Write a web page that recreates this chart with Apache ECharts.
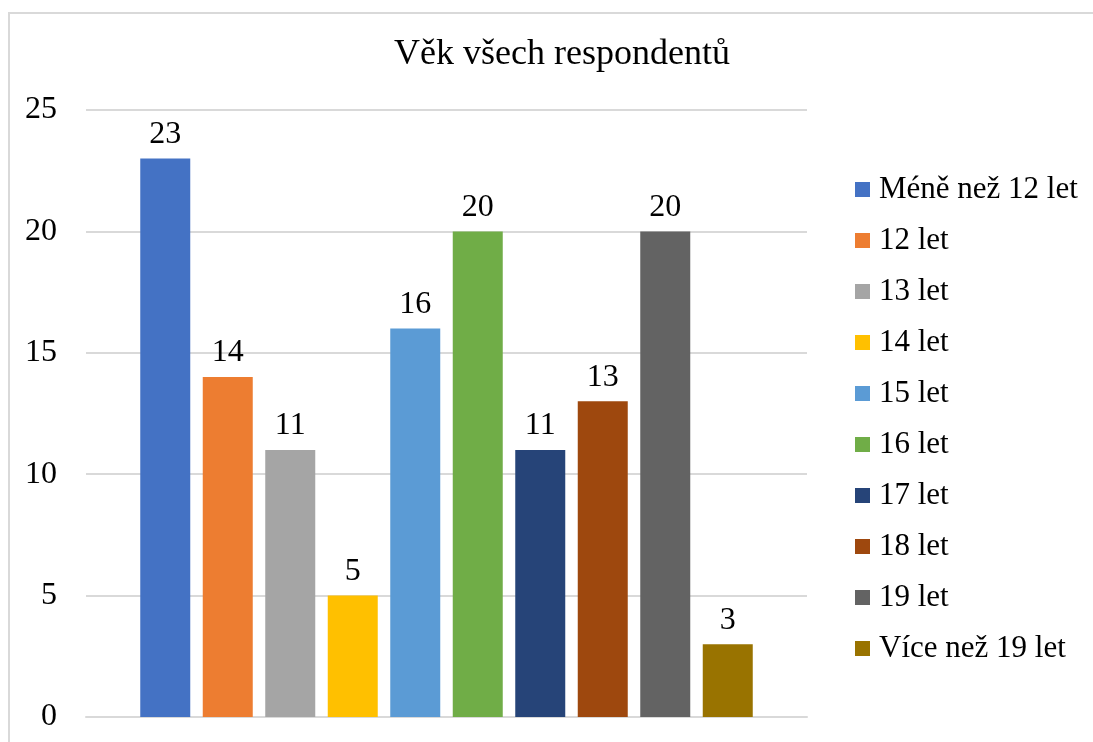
<!DOCTYPE html>
<html>
<head>
<meta charset="utf-8">
<script src="https://cdn.jsdelivr.net/npm/echarts@6/dist/echarts.min.js"></script>
<style>
  html, body { margin: 0; padding: 0; background: #fff; }
  #main { width: 1093px; height: 742px; }
</style>
</head>
<body>
<div id="main"></div>
<script>
// data
const groups = ['Méně než 12 let', '12 let', '13 let', '14 let', '15 let', '16 let', '17 let', '18 let', '19 let', 'Více než 19 let'];
const counts = [23, 14, 11, 5, 16, 20, 11, 13, 20, 3];
const colors = ['#4472C4', '#ED7D31', '#A5A5A5', '#FFC000', '#5B9BD5', '#70AD47', '#264478', '#9E480E', '#636363', '#997300'];
const yTicks = { min: 0, max: 25, interval: 5 };

const font = '"Liberation Serif", "Times New Roman", serif';

const chart = echarts.init(document.getElementById('main'));

// každá skupina je samostatná série, aby měla položku v legendě
const series = groups.map((name, i) => ({
    name: name,
    type: 'bar',
    data: [counts[i]],
    barWidth: 50,
    barGap: '25%',
    itemStyle: { color: colors[i] },
    label: {
        show: true,
        position: 'top',
        distance: 8,
        color: '#000',
        fontFamily: font,
        fontSize: 32
    }
}));

chart.setOption({
    animation: false,
    color: colors,
    title: {
        text: 'Věk všech respondentů',
        left: 557,
        top: 32,
        textAlign: 'center',
        textStyle: {
            fontFamily: font,
            fontSize: 36,
            fontWeight: 'normal',
            color: '#000'
        }
    },
    legend: {
        orient: 'vertical',
        left: 850,
        top: 169,
        itemWidth: 15,
        itemHeight: 15,
        itemGap: 20,
        icon: 'rect',
        data: groups,
        textStyle: {
            fontFamily: font,
            fontSize: 31,
            color: '#000',
            padding: [0, 0, 0, 4]
        }
    },
    grid: {
        left: 86,
        right: 286,
        top: 110,
        bottom: 25,
        containLabel: false
    },
    xAxis: {
        type: 'category',
        data: [''],
        axisTick: { show: false },
        axisLabel: { show: false },
        axisLine: { lineStyle: { color: '#d9d9d9', width: 2 } }
    },
    yAxis: {
        type: 'value',
        min: yTicks.min,
        max: yTicks.max,
        interval: yTicks.interval,
        axisLine: { show: false },
        axisTick: { show: false },
        axisLabel: {
            margin: 29,
            color: '#000',
            fontFamily: font,
            fontSize: 32
        },
        splitLine: { lineStyle: { color: '#d9d9d9', width: 2 } }
    },
    graphic: [{
        type: 'rect',
        shape: { x: 9, y: 13, width: 1200, height: 1000 },
        style: { fill: 'none', stroke: '#d9d9d9', lineWidth: 2 },
        silent: true
    }],
    series: series
});
</script>
</body>
</html>
